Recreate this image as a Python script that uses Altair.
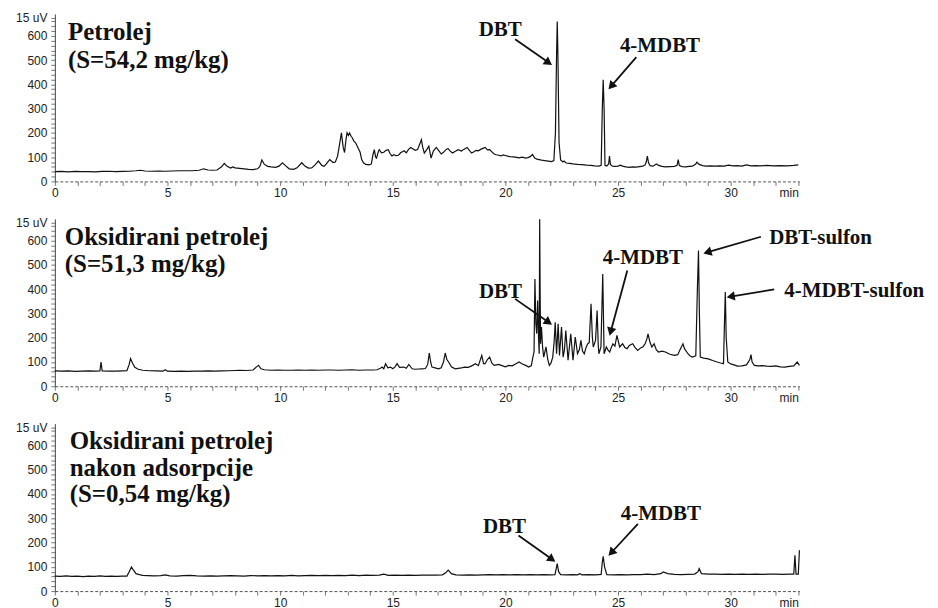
import math
import altair as alt
import pandas as pd

# ---------------- data ----------------
# Panel 1: Petrolej
p1_t = [0.0, 0.3, 0.6, 0.9, 1.2, 1.5, 1.8, 2.1, 2.4, 2.7, 3.0, 3.3, 3.6, 3.8, 4.0, 4.3, 4.6, 4.9, 5.2, 5.5,
        5.8, 6.1, 6.4, 6.6, 6.8, 7.0, 7.2, 7.4, 7.52, 7.65, 7.8, 7.9, 8.0, 8.2, 8.4, 8.6, 8.8, 9.0, 9.1, 9.19,
        9.3, 9.45, 9.6, 9.8, 9.95, 10.1, 10.25, 10.4, 10.6, 10.75, 10.96, 11.1, 11.25, 11.4, 11.55, 11.7, 11.85,
        11.95, 12.05, 12.2, 12.35, 12.45, 12.55, 12.65, 12.72, 12.8, 12.86, 12.92, 12.97, 13.03, 13.08, 13.15,
        13.2, 13.28, 13.35, 13.45, 13.55, 13.62, 13.7, 13.8, 13.95, 14.05, 14.12, 14.18, 14.24, 14.28, 14.35,
        14.4, 14.5, 14.6, 14.7, 14.8, 14.88, 14.96, 15.05, 15.15, 15.25, 15.35, 15.5, 15.6, 15.7, 15.8, 15.9,
        16.0, 16.1, 16.18, 16.27, 16.33, 16.4, 16.5, 16.6, 16.7, 16.8, 16.93, 17.05, 17.15, 17.25, 17.35, 17.45,
        17.55, 17.65, 17.78, 17.9, 18.05, 18.15, 18.3, 18.4, 18.5, 18.6, 18.7, 18.8, 18.9, 19.0, 19.1, 19.2,
        19.3, 19.4, 19.5, 19.6, 19.7, 19.8, 19.9, 20.0, 20.1, 20.2, 20.35, 20.5, 20.6, 20.75, 20.9, 21.0, 21.1,
        21.2, 21.3, 21.4, 21.5, 21.6, 21.75, 21.9, 22.05, 22.15, 22.22, 22.27, 22.30, 22.33, 22.38, 22.45, 22.55,
        22.6, 22.7, 22.85, 23.0, 23.2, 23.4, 23.6, 23.8, 23.96, 24.15, 24.25, 24.3, 24.34, 24.38, 24.42, 24.5,
        24.58, 24.62, 24.66, 24.75, 24.86, 25.0, 25.1, 25.2, 25.35, 25.5, 25.65, 25.8, 25.95, 26.1, 26.2, 26.25,
        26.3, 26.35, 26.42, 26.55, 26.7, 26.8, 26.95, 27.1, 27.3, 27.5, 27.62, 27.67, 27.72, 27.85, 28.0, 28.15,
        28.3, 28.45, 28.5, 28.6, 28.75, 28.9, 29.1, 29.3, 29.5, 29.7, 29.9, 30.1, 30.3, 30.5, 30.7, 30.9, 31.1,
        31.3, 31.6, 31.9, 32.2, 32.5, 32.8, 33.0]
p1_v = [40, 41, 39, 41, 40, 40, 39, 41, 42, 40, 41, 42, 44, 46, 43, 42, 43, 42, 43, 44,
        44, 44, 46, 52, 47, 46, 47, 60, 74, 62, 55, 60, 56, 54, 52, 50, 49, 52, 62, 88,
        70, 62, 60, 58, 63, 77, 64, 52, 50, 56, 77, 63, 55, 56, 68, 84, 66,
        62, 72, 90, 78, 80, 104, 160, 200, 140, 119, 170, 200, 190, 200, 186,
        180, 165, 159, 140, 120, 90, 77, 70, 68, 72, 110, 131, 100, 96, 120,
        131, 118, 120, 128, 131, 115, 105, 110, 106, 108, 118, 126, 118, 132, 140, 134,
        128, 131, 150, 172, 140, 117, 130, 145, 96, 125, 140, 126, 113, 120, 130, 136,
        125, 117, 124, 131, 125, 132, 140, 128, 117, 122, 128, 126, 132, 136, 140, 130,
        131, 122, 113, 110, 108, 105, 109, 107, 104, 102, 101, 99, 97, 100, 96, 98, 102,
        111, 96, 92, 90, 88, 86, 84, 82, 86, 200, 520, 659, 520, 160, 88, 80,
        84, 76, 74, 72, 70, 69, 67, 66, 64, 63, 66, 300, 419, 300, 66, 63,
        72, 104, 70, 63, 62, 63, 67, 63, 60, 58, 60, 59, 61, 63, 68, 80,
        104, 78, 65, 63, 72, 66, 62, 60, 61, 62, 66, 90, 65, 61, 60, 62,
        63, 72, 79, 70, 65, 63, 64, 63, 64, 63, 67, 64, 65, 63, 68, 64, 65,
        64, 66, 64, 65, 64, 66, 68]

# Panel 2: Oksidirani petrolej
p2_t = [0.0, 0.3, 0.6, 0.9, 1.2, 1.5, 1.8, 2.0, 2.05, 2.1, 2.4, 2.7, 3.0, 3.2, 3.3, 3.36, 3.45, 3.55, 3.7, 3.9,
        4.2, 4.5, 4.8, 4.9, 5.0, 5.3, 5.6, 5.9, 6.2, 6.5, 6.8, 7.1, 7.4, 7.7, 8.0, 8.2, 8.5, 8.8, 8.95, 9.04,
        9.15, 9.3, 9.6, 9.9, 10.2, 10.5, 10.8, 11.1, 11.4, 11.7, 12.0, 12.3, 12.6, 12.9, 13.2, 13.5, 13.8, 14.1,
        14.3, 14.45, 14.53, 14.6, 14.68, 14.78, 14.9, 15.0, 15.1, 15.19, 15.3, 15.49, 15.6, 15.71, 15.86, 16.0,
        16.15, 16.3, 16.45, 16.55, 16.62, 16.68, 16.74, 16.88, 17.03, 17.15, 17.25, 17.33, 17.4, 17.48, 17.6,
        17.77, 17.9, 18.05, 18.2, 18.35, 18.5, 18.67, 18.8, 18.95, 19.03, 19.1, 19.2, 19.3, 19.4, 19.5, 19.6,
        19.7, 19.85, 20.0, 20.15, 20.3, 20.45, 20.6, 20.75, 20.9, 21.03, 21.15, 21.22, 21.27, 21.31, 21.35,
        21.39, 21.43, 21.47, 21.5, 21.52, 21.54, 21.56, 21.6, 21.65, 21.7, 21.8, 21.88, 21.95, 22.02, 22.1,
        22.16, 22.21, 22.27, 22.34, 22.4, 22.49, 22.56, 22.62, 22.68, 22.78, 22.9, 23.0, 23.1, 23.2, 23.28,
        23.35, 23.42, 23.5, 23.58, 23.65, 23.72, 23.8, 23.86, 23.9, 24.0, 24.07, 24.12, 24.15, 24.24, 24.32,
        24.38, 24.48, 24.55, 24.63, 24.7, 24.77, 24.86, 24.95, 25.07, 25.13, 25.2, 25.3, 25.4, 25.5, 25.65,
        25.75, 25.87, 26.0, 26.1, 26.2, 26.28, 26.33, 26.42, 26.5, 26.6, 26.7, 26.8, 26.95, 27.1, 27.3, 27.5,
        27.65, 27.75, 27.88, 27.95, 28.1, 28.2, 28.3, 28.45, 28.52, 28.57, 28.61, 28.65, 28.8, 29.0, 29.2,
        29.4, 29.55, 29.68, 29.72, 29.76, 29.8, 29.87, 30.0, 30.15, 30.3, 30.5, 30.7, 30.85, 30.9, 30.95,
        31.05, 31.2, 31.4, 31.6, 31.8, 32.0, 32.2, 32.4, 32.6, 32.8, 32.95, 33.05]
p2_v = [63, 62, 63, 61, 62, 63, 62, 63, 100, 63, 62, 62, 63, 64, 90, 114, 95, 78, 70, 66,
        64, 63, 62, 68, 62, 61, 62, 61, 62, 62, 63, 62, 63, 64, 65, 66, 65, 67, 80, 86,
        72, 68, 66, 67, 66, 66, 67, 66, 67, 66, 67, 67, 66, 67, 68, 66, 67, 67,
        68, 74, 79, 72, 93, 76, 79, 72, 80, 93, 78, 79, 74, 90, 72, 70,
        71, 72, 73, 90, 137, 100, 79, 76, 72, 76, 100, 137, 110, 100, 80,
        72, 74, 76, 79, 78, 84, 93, 85, 127, 93, 93, 110, 120, 95, 86, 88,
        90, 85, 80, 86, 84, 92, 100, 92, 86, 79, 85, 120, 141, 442, 260,
        217, 353, 200, 134, 688, 400, 175, 244, 160, 120, 162, 110, 86, 95, 120,
        180, 264, 134, 257, 127, 244, 120, 150, 230, 107, 216, 107, 203, 134, 150,
        189, 145, 134, 160, 175, 180, 340, 200, 162, 189, 312, 170, 134, 162, 463,
        134, 162, 150, 141, 160, 175, 165, 210, 162, 168, 175, 160, 155, 168, 175,
        160, 148, 158, 162, 175, 195, 216, 180, 162, 175, 150, 141, 145, 141, 132, 127,
        130, 150, 175, 155, 134, 125, 120, 125, 400, 559, 300, 120, 116, 113, 106,
        100, 96, 93, 250, 388, 200, 100, 92, 88, 83, 84, 88, 110, 130, 100,
        86, 84, 85, 83, 82, 84, 80, 79, 82, 84, 100, 86]

# Panel 3: Oksidirani petrolej nakon adsorpcije
p3_t = [0.0, 0.25, 0.5, 0.75, 1.0, 1.25, 1.5, 1.75, 2.0, 2.25, 2.5, 2.75, 3.0, 3.2, 3.3, 3.4, 3.5, 3.6, 3.75, 3.9,
        4.1, 4.4, 4.7, 4.9, 5.1, 5.4, 5.7, 6.0, 6.3, 6.6, 6.9, 7.2, 7.5, 7.8, 8.1, 8.4, 8.7, 9.0, 9.3, 9.6, 9.9,
        10.2, 10.5, 10.8, 11.1, 11.4, 11.7, 12.0, 12.3, 12.6, 12.9, 13.2, 13.5, 13.8, 14.1, 14.4, 14.6, 14.8,
        15.1, 15.4, 15.7, 16.0, 16.3, 16.6, 16.9, 17.2, 17.35, 17.46, 17.6, 17.8, 18.1, 18.4, 18.7, 19.0, 19.3,
        19.6, 19.9, 20.2, 20.5, 20.8, 21.1, 21.4, 21.7, 22.0, 22.2, 22.27, 22.3, 22.36, 22.45, 22.7, 23.0, 23.2,
        23.3, 23.4, 23.7, 24.0, 24.25, 24.3, 24.34, 24.4, 24.5, 24.8, 25.1, 25.4, 25.7, 26.0, 26.3, 26.6, 26.9,
        27.0, 27.2, 27.5, 27.8, 28.1, 28.4, 28.55, 28.6, 28.7, 29.0, 29.3, 29.6, 29.9, 30.2, 30.5, 30.8, 31.1,
        31.4, 31.7, 32.0, 32.3, 32.6, 32.8, 32.85, 32.9, 33.0, 33.05]
p3_v = [62, 61, 63, 61, 62, 60, 62, 61, 63, 61, 62, 61, 62, 62, 80, 99, 85, 72, 68, 65,
        64, 63, 64, 67, 63, 62, 64, 65, 63, 62, 63, 62, 63, 64, 63, 62, 64, 63, 64, 63, 64,
        63, 65, 63, 64, 65, 64, 65, 64, 65, 64, 66, 64, 66, 65, 66, 70, 65,
        66, 65, 66, 65, 66, 66, 66, 67, 75, 86, 72, 67, 66, 67, 66, 67, 68,
        67, 68, 67, 68, 67, 68, 67, 68, 67, 68, 100, 113, 80, 68, 67, 68, 67,
        72, 67, 68, 67, 69, 120, 143, 100, 68, 67, 68, 67, 68, 68, 70, 68, 72,
        79, 72, 69, 68, 69, 70, 80, 93, 72, 70, 70, 69, 70, 69, 70, 69, 70,
        69, 70, 70, 69, 70, 70, 148, 70, 70, 168]

# annotation texts
p1_title = ["Petrolej", "(S=54,2 mg/kg)"]
p2_title = ["Oksidirani petrolej", "(S=51,3 mg/kg)"]
p3_title = ["Oksidirani petrolej", "nakon adsorpcije", "(S=0,54 mg/kg)"]
p1_peaks = ["DBT", "4-MDBT"]
p2_peaks = ["DBT", "4-MDBT"]
p2_sulfones = ["DBT-sulfon", "4-MDBT-sulfon"]
p3_peaks = ["DBT", "4-MDBT"]

# annotation anchors in data units (min, uV)
p1_title_pos = [(0.58, 616), (0.58, 501)]
p2_title_pos = [(0.44, 616), (0.44, 505)]
p3_title_pos = [(0.66, 617), (0.66, 508), (0.66, 402)]
p1_peak_pos = [(19.77, 623), (26.86, 556)]
p2_peak_pos = [(19.78, 390), (26.1, 529)]
p2_sulf_pos = [(31.71, 611), (32.38, 392)]
p3_peak_pos = [(19.96, 263), (26.9, 318)]
p1_arrows = [(20.43, 586, 22.05, 481), (25.81, 512, 24.59, 381)]
p2_arrows = [(20.43, 360, 22.05, 255), (25.41, 477, 24.63, 210),
             (31.34, 616, 28.81, 548), (31.93, 399, 29.84, 367)]
p3_arrows = [(20.58, 229, 22.2, 122), (25.88, 277, 24.59, 147)]

# ---------------- chart ----------------
X_MAX = 33.05
Y_MAX = 690
W, H = 747, 168
KX, KY = W / X_MAX, H / Y_MAX

x_axis = alt.Axis(
    values=list(range(0, 34)),
    labelExpr="datum.value % 5 == 0 ? datum.label : (datum.value == 33 ? 'min' : '')",
    labelAlign={"condition": {"test": "datum.value == 33", "value": "right"}, "value": "center"},
    title=None, grid=False, tickSize=4, labelFlush=False, labelOverlap=False,
    domainDash=[3, 2], domainColor="#555", tickColor="#777",
    labelFont="Liberation Sans", labelFontSize=12, labelColor="#222", labelPadding=2,
)
y_axis = alt.Axis(
    values=list(range(0, 670, 20)) + [675],
    labelExpr="datum.value == 675 ? '15 uV' : (datum.value % 100 == 0 ? datum.label : '')",
    title=None, grid=False, tickSize=4, labelOverlap=False, labelFlush=False,
    domainColor="#444", tickColor="#777",
    labelFont="Liberation Sans", labelFontSize=12, labelColor="#222", labelPadding=4,
)
xs = alt.Scale(domain=[0, X_MAX], nice=False, zero=False)
ys = alt.Scale(domain=[0, Y_MAX], nice=False)


def arrows_df(rows):
    out = []
    for t1, v1, t2, v2 in rows:
        dx = (t2 - t1) * KX
        dy = -(v2 - v1) * KY
        L = math.hypot(dx, dy)
        ux, uy = dx / L, dy / L
        th = t2 - 5 * ux / KX
        vh = v2 + 5 * uy / KY
        ang = math.degrees(math.atan2(dx, -dy)) % 360
        out.append(dict(t1=t1, v1=v1, t2=th, v2=vh, ang=ang))
    return pd.DataFrame(out)


def text_df(labels, pos):
    return pd.DataFrame({"label": labels, "t": [p[0] for p in pos], "v": [p[1] for p in pos]})


def panel(ts, vs, title, title_pos, center_labels, center_pos, arrows, left_labels=None, left_pos=None):
    trace = pd.DataFrame({"t": ts, "v": vs})
    X = alt.X("t:Q", scale=xs, axis=x_axis)
    Y = alt.Y("v:Q", scale=ys, axis=y_axis)
    line = alt.Chart(trace).mark_line(color="#111", strokeWidth=1.2).encode(x=X, y=Y)
    ttl = alt.Chart(text_df(title, title_pos)).mark_text(
        font="Liberation Serif", fontWeight="bold", fontSize=25, align="left",
        baseline="middle", color="#111").encode(x=X, y=Y, text="label:N")
    lab = alt.Chart(text_df(center_labels, center_pos)).mark_text(
        font="Liberation Serif", fontWeight="bold", fontSize=21, align="center",
        baseline="middle", color="#111").encode(x=X, y=Y, text="label:N")
    adf = arrows_df(arrows)
    rule = alt.Chart(adf).mark_rule(color="#111", strokeWidth=1.8).encode(
        x=alt.X("t1:Q", scale=xs, axis=x_axis), y=alt.Y("v1:Q", scale=ys, axis=y_axis),
        x2="t2:Q", y2="v2:Q")
    head = alt.Chart(adf).mark_point(shape="triangle", filled=True, size=90, color="#111", opacity=1).encode(
        x=alt.X("t2:Q", scale=xs, axis=x_axis), y=alt.Y("v2:Q", scale=ys, axis=y_axis),
        angle=alt.Angle("ang:Q", scale=None))
    layers = [line, ttl, lab, rule, head]
    if left_labels:
        layers.append(alt.Chart(text_df(left_labels, left_pos)).mark_text(
            font="Liberation Serif", fontWeight="bold", fontSize=21, align="left",
            baseline="middle", color="#111").encode(x=X, y=Y, text="label:N"))
    return alt.layer(*layers).properties(width=W, height=H)


c1 = panel(p1_t, p1_v, p1_title, p1_title_pos, p1_peaks, p1_peak_pos, p1_arrows)
c2 = panel(p2_t, p2_v, p2_title, p2_title_pos, p2_peaks, p2_peak_pos, p2_arrows,
           p2_sulfones, p2_sulf_pos)
c3 = panel(p3_t, p3_v, p3_title, p3_title_pos, p3_peaks, p3_peak_pos, p3_arrows)

chart = alt.vconcat(c1, c2, c3, spacing=17.5).properties(
    padding={"left": 7, "top": 2, "right": 5, "bottom": 5},
    background="white",
).configure_view(stroke=None)

chart.save("out.html", embed_options={"renderer": "svg", "actions": False})
